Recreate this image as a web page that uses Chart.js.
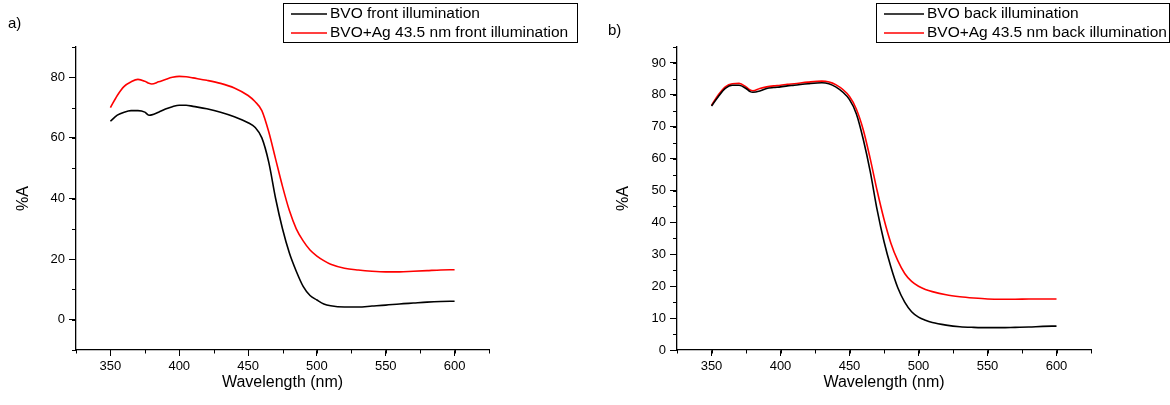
<!DOCTYPE html>
<html>
<head>
<meta charset="utf-8">
<script src="https://cdn.jsdelivr.net/npm/chart.js@4/dist/chart.umd.min.js"></script>
<style>
  body { margin: 0; background: #fff; }
  .panel { position: absolute; top: 0; width: 585px; height: 405px; }
</style>
</head>
<body>
<div class="panel" style="left:0"><canvas id="chartA" width="585" height="405"></canvas></div>
<div class="panel" style="left:585px"><canvas id="chartB" width="585" height="405"></canvas></div>
<script>
// wavelengths (nm)
const wavelengths = [350, 355, 360, 365, 370, 375, 378, 380, 385, 390, 395, 400, 405, 410, 420, 430, 440, 450, 455, 460, 465, 470, 475, 480, 485, 490, 495, 500, 505, 510, 520, 530, 540, 550, 560, 570, 580, 590, 600];

// panel a, front illumination
const bvoFront = [65.5, 67.5, 68.5, 69, 69, 68.5, 67.5, 67.6, 68.5, 69.5, 70.3, 70.8, 70.8, 70.4, 69.6, 68.5, 67, 65, 63.5, 60, 52, 40, 30, 22, 16, 11, 8, 6.5, 5.2, 4.6, 4.2, 4.2, 4.5, 4.8, 5.2, 5.5, 5.8, 6, 6.1];
const agFront = [70, 74, 77, 78.5, 79.3, 78.7, 78, 77.8, 78.5, 79.3, 80, 80.3, 80.2, 79.8, 79, 78, 76.5, 74, 72, 69, 62, 53, 44, 36, 30, 26, 23, 21, 19.5, 18.3, 17, 16.4, 16, 15.8, 15.8, 16, 16.2, 16.4, 16.5];

// panel b, back illumination
const bvoBack = [76.5, 79.5, 82, 83, 83, 82, 81, 80.8, 81.2, 82, 82.3, 82.5, 82.8, 83, 83.5, 83.8, 82.5, 78.5, 74, 66, 56, 44, 34, 26, 19.5, 15, 12, 10.3, 9.3, 8.6, 7.8, 7.3, 7.1, 7, 7, 7.1, 7.2, 7.4, 7.5];
const agBack = [76.7, 80, 82.5, 83.5, 83.6, 82.5, 81.5, 81.3, 82, 82.5, 82.8, 83, 83.3, 83.5, 84, 84.3, 83.2, 79.5, 75.5, 69, 60, 50, 41, 33.5, 28, 24, 21.5, 20, 19, 18.3, 17.3, 16.7, 16.3, 16, 15.9, 15.9, 16, 16, 16];

const xTicks = [350, 400, 450, 500, 550, 600];
const yTicksA = [0, 20, 40, 60, 80];
const yTicksB = [0, 10, 20, 30, 40, 50, 60, 70, 80, 90];

Chart.defaults.font.family = '"Liberation Sans", Arial, sans-serif';
Chart.defaults.color = '#000';

function points(ys) {
    return wavelengths.map((x, i) => ({ x: x, y: ys[i] }));
}

// draws the framed legend, the panel letter and the minor ticks
const extras = {
    id: 'extras',
    afterDraw(chart, args, opts) {
        const ctx = chart.ctx;
        ctx.save();
        ctx.fillStyle = '#000';
        ctx.font = '15px "Liberation Sans", Arial, sans-serif';
        ctx.textBaseline = 'middle';
        ctx.textAlign = 'left';
        ctx.fillText(opts.letter, opts.letterX, opts.letterY);

        // minor ticks
        ctx.strokeStyle = '#000';
        ctx.lineWidth = 1;
        const xs = chart.scales.x, ys = chart.scales.y;
        for (let v = xs.min; v <= xs.max + 0.01; v += opts.xMinor) {
            const px = Math.round(xs.getPixelForValue(v)) + 0.5;
            ctx.beginPath();
            ctx.moveTo(px, ys.bottom);
            ctx.lineTo(px, ys.bottom + 3.5);
            ctx.stroke();
        }
        for (let v = ys.min; v <= ys.max + 0.01; v += opts.yMinor) {
            const py = Math.round(ys.getPixelForValue(v)) + 0.5;
            ctx.beginPath();
            ctx.moveTo(xs.left, py);
            ctx.lineTo(xs.left - 4, py);
            ctx.stroke();
        }

        // legend box
        const b = opts.box;
        ctx.strokeStyle = '#000';
        ctx.lineWidth = 1;
        ctx.strokeRect(b.x + 0.5, b.y + 0.5, b.w, b.h);
        ctx.font = '15.5px "Liberation Sans", Arial, sans-serif';
        chart.data.datasets.forEach((ds, i) => {
            const y = b.y + 11 + i * 19;
            ctx.strokeStyle = ds.borderColor;
            ctx.lineWidth = 1.5;
            ctx.beginPath();
            ctx.moveTo(b.x + 8, y);
            ctx.lineTo(b.x + 8 + b.line, y);
            ctx.stroke();
            ctx.fillText(ds.label, b.x + 11 + b.line, y);
        });
        ctx.restore();
    }
};

function makeChart(id, s1, s2, labels, yMin, yMax, yTicks, yMinor, pad, opts) {
    return new Chart(document.getElementById(id), {
        type: 'line',
        data: {
            datasets: [
                { label: labels[0], data: points(s1), borderColor: '#000', backgroundColor: '#000', borderWidth: 1.6 },
                { label: labels[1], data: points(s2), borderColor: '#ff0000', backgroundColor: '#ff0000', borderWidth: 1.6 }
            ]
        },
        options: {
            responsive: false,
            animation: false,
            elements: {
                point: { radius: 0 },
                line: { tension: 0.3, cubicInterpolationMode: 'monotone' }
            },
            layout: { padding: { left: 0, right: pad.right, top: 47, bottom: 0 } },
            plugins: {
                legend: { display: false },
                tooltip: { enabled: false },
                extras: Object.assign({ xMinor: 25, yMinor: yMinor }, opts)
            },
            scales: {
                x: {
                    type: 'linear',
                    min: 325,
                    max: 625,
                    afterBuildTicks: (s) => { s.ticks = xTicks.map(v => ({ value: v })); },
                    afterFit: (s) => { s.height = 55; },
                    grid: { drawOnChartArea: false, drawTicks: true, tickLength: 6, color: '#000', lineWidth: 1 },
                    border: { display: true, color: '#000', width: 1.3 },
                    ticks: { font: { size: 13 }, padding: 3, maxRotation: 0 },
                    title: { display: true, text: 'Wavelength (nm)', font: { size: 16 }, padding: { top: 0, bottom: 13 } }
                },
                y: {
                    min: yMin,
                    max: yMax,
                    afterBuildTicks: (s) => { s.ticks = yTicks.map(v => ({ value: v })); },
                    afterFit: (s) => { s.width = pad.left; },
                    grid: { drawOnChartArea: false, drawTicks: true, tickLength: 7, color: '#000', lineWidth: 1 },
                    border: { display: true, color: '#000', width: 1.3 },
                    ticks: { font: { size: 13 }, padding: 4 },
                    title: { display: true, text: '%A', font: { size: 16 }, padding: { top: pad.title, bottom: 0 } }
                }
            }
        },
        plugins: [extras]
    });
}

makeChart('chartA', bvoFront, agFront,
    ['BVO front illumination', 'BVO+Ag 43.5 nm front illumination'],
    -10, 90, yTicksA, 10, { left: 76, right: 96, title: 14 },
    { letter: 'a)', letterX: 8, letterY: 24, box: { x: 283, y: 3, w: 294, h: 39, line: 36 } });

makeChart('chartB', bvoBack, agBack,
    ['BVO back illumination', 'BVO+Ag 43.5 nm back illumination'],
    0, 95, yTicksB, 5, { left: 92, right: 79, title: 29 },
    { letter: 'b)', letterX: 23, letterY: 31, box: { x: 291, y: 3, w: 293, h: 39, line: 40 } });
</script>
</body>
</html>
